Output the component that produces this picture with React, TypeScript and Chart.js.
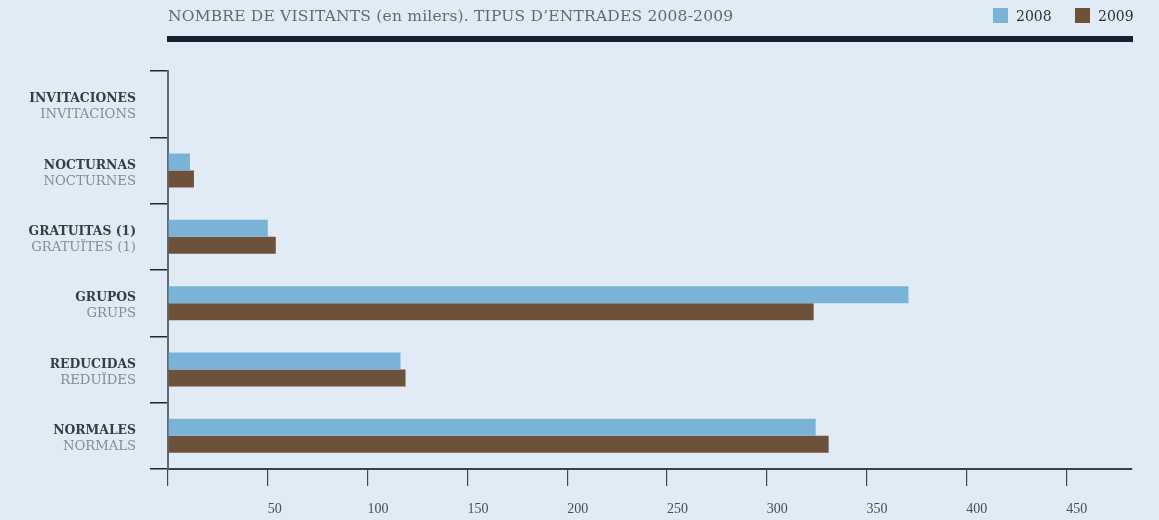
import React, { useEffect, useRef } from 'react';
import { Chart, registerables } from 'chart.js';

Chart.register(...registerables);

const titleText = 'NOMBRE DE VISITANTS (en milers). TIPUS D\u2019ENTRADES 2008-2009';
const categoriesEs = ['INVITACIONES', 'NOCTURNAS', 'GRATUITAS (1)', 'GRUPOS', 'REDUCIDAS', 'NORMALES'];
const categoriesCa = ['INVITACIONS', 'NOCTURNES', 'GRATU\u00CFTES (1)', 'GRUPS', 'REDU\u00CFDES', 'NORMALS'];
const values2008 = [0, 11, 50, 371, 116.5, 324.5];
const values2009 = [0, 13, 54, 323.5, 119, 331];
const seriesLabels = ['2008', '2009'];
const xTickValues = [0, 50, 100, 150, 200, 250, 300, 350, 400, 450];

const COLORS = ['#7ab3d7', '#6e513a'];
const BG = '#e1ebf6';
const FONT = '"DejaVu Serif", "Liberation Serif", serif';
const TICK_FONT = '"Liberation Serif", serif';

const decorPlugin = {
  id: 'decor',
  beforeDraw(chart: any) {
    const ctx = chart.ctx;
    ctx.save();
    ctx.fillStyle = BG;
    ctx.fillRect(0, 0, chart.width, chart.height);
    ctx.restore();
  },
  afterDraw(chart: any) {
    const ctx = chart.ctx;
    const area = chart.chartArea;
    const yScale = chart.scales.y;
    ctx.save();
    // title
    ctx.fillStyle = '#5e6a74';
    ctx.font = `15.5px ${FONT}`;
    ctx.textAlign = 'left';
    ctx.textBaseline = 'alphabetic';
    (ctx as any).letterSpacing = '0.2px';
    ctx.fillText(titleText, area.left, 21);
    (ctx as any).letterSpacing = '0px';
    // thick rule
    ctx.fillStyle = '#13222e';
    ctx.fillRect(area.left - 1, 36, area.right - area.left + 2, 6);
    // legend
    const legendX = [993, 1075];
    seriesLabels.forEach((lab, i) => {
      ctx.fillStyle = COLORS[i];
      ctx.fillRect(legendX[i], 8, 15, 15);
      ctx.fillStyle = '#27323c';
      ctx.font = `14px ${FONT}`;
      ctx.fillText(lab, legendX[i] + 23, 21);
    });
    // category labels
    ctx.textAlign = 'right';
    categoriesEs.forEach((lab, i) => {
      const c = yScale.getPixelForValue(i);
      ctx.fillStyle = '#333e48';
      ctx.font = `bold 12.4px ${FONT}`;
      ctx.fillText(lab, 136, c - 2);
      ctx.fillStyle = '#7f8e9a';
      ctx.font = `13.2px ${FONT}`;
      ctx.fillText(categoriesCa[i], 136, c + 14);
    });
    ctx.restore();
  },
};

export default function App() {
  const ref = useRef<HTMLCanvasElement | null>(null);
  useEffect(() => {
    document.body.style.margin = '0';
    const canvas = ref.current!;
    const chart = new Chart(canvas, {
      type: 'bar',
      data: {
        labels: categoriesEs,
        datasets: seriesLabels.map((lab, i) => ({
          label: lab,
          data: i === 0 ? values2008 : values2009,
          backgroundColor: COLORS[i],
          borderWidth: 0,
          barPercentage: 1,
          categoryPercentage: 0.512,
        })),
      },
      options: {
        indexAxis: 'y',
        animation: false,
        responsive: false,
        maintainAspectRatio: false,
        devicePixelRatio: 1,
        layout: { padding: { top: 71, right: 27, left: 0, bottom: 0 } },
        plugins: {
          legend: { display: false },
          title: { display: false },
          tooltip: { enabled: false },
        },
        scales: {
          x: {
            type: 'linear',
            min: 0,
            max: 483,
            afterBuildTicks: (scale: any) => {
              scale.ticks = xTickValues.map((v) => ({ value: v }));
            },
            afterFit: (scale: any) => {
              scale.height = 51;
            },
            grid: {
              drawOnChartArea: false,
              drawTicks: true,
              tickLength: 17,
              color: '#3d4852',
              lineWidth: 1.2,
            },
            border: { display: true, color: '#36424c', width: 2 },
            ticks: {
              align: 'start',
              padding: 15,
              color: '#444f5a',
              font: { family: TICK_FONT, size: 14 },
              callback: (v: any) => (v === 0 ? '' : String(v)),
            },
          },
          y: {
            type: 'category',
            afterFit: (scale: any) => {
              scale.width = 168;
            },
            grid: {
              drawOnChartArea: false,
              drawTicks: true,
              tickLength: 18,
              color: '#1c2832',
              lineWidth: 1.5,
              offset: true,
            },
            border: { display: true, color: '#5d6973', width: 2 },
            ticks: { display: false },
          },
        },
      },
      plugins: [decorPlugin],
    } as any);
    return () => chart.destroy();
  }, []);
  return (
    <div style={{ width: 1159, height: 520 }}>
      <canvas ref={ref} width={1159} height={520} style={{ display: 'block', width: 1159, height: 520 }} />
    </div>
  );
}
